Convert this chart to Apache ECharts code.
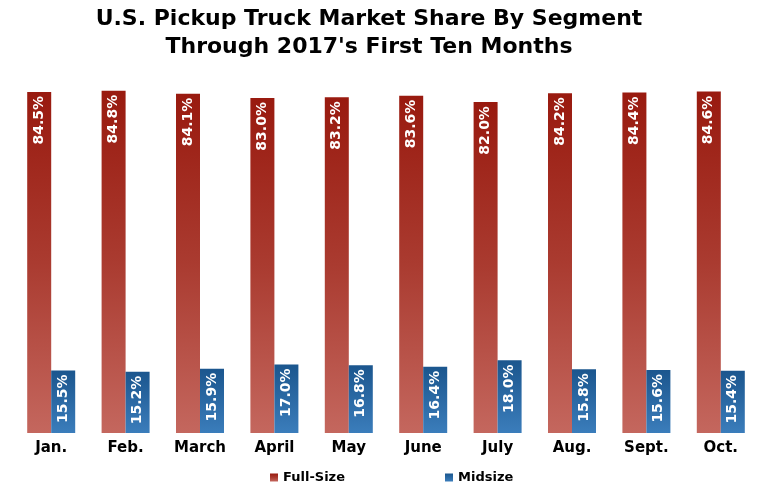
<!DOCTYPE html>
<html>
<head>
<meta charset="utf-8">
<script src="https://cdn.jsdelivr.net/npm/echarts@6/dist/echarts.min.js"></script>
<style>
  html, body { margin: 0; padding: 0; background: #fff; }
  #chart { width: 768px; height: 489px; }
</style>
</head>
<body>
<div id="chart"></div>
<script>
const months = ['Jan.', 'Feb.', 'March', 'April', 'May', 'June', 'July', 'Aug.', 'Sept.', 'Oct.'];
const fullSize = [84.5, 84.8, 84.1, 83.0, 83.2, 83.6, 82.0, 84.2, 84.4, 84.6];
const midsize = [15.5, 15.2, 15.9, 17.0, 16.8, 16.4, 18.0, 15.8, 15.6, 15.4];

const font = 'DejaVu Sans';

const chart = echarts.init(document.getElementById('chart'), null, { renderer: 'canvas' });

// rotated white label at the top of each bar
const barLabel = {
  show: true,
  position: 'insideTop',
  rotate: 90,
  align: 'right',
  verticalAlign: 'middle',
  distance: 4,
  color: '#fff',
  fontFamily: font,
  fontWeight: 'bold',
  fontSize: 14,
  formatter: p => p.value.toFixed(1) + '%'
};

chart.setOption({
  animation: false,
  title: {
    text: "U.S. Pickup Truck Market Share By Segment\nThrough 2017's First Ten Months",
    left: 364,
    textAlign: 'center',
    top: 0,
    textStyle: {
      fontFamily: font,
      fontWeight: 'bold',
      fontSize: 22,
      lineHeight: 28,
      color: '#000'
    }
  },
  legend: {
    bottom: 0,
    left: 265,
    itemGap: 100,
    itemWidth: 8,
    itemHeight: 8,
    icon: 'rect',
    textStyle: { fontFamily: font, fontWeight: 'bold', fontSize: 13, color: '#000' },
    data: ['Full-Size', 'Midsize']
  },
  grid: { left: 14, right: 10, top: 90, bottom: 56 },
  xAxis: {
    type: 'category',
    data: months,
    axisLine: { show: false },
    axisTick: { show: false },
    axisLabel: {
      margin: 8,
      fontFamily: font,
      fontWeight: 'bold',
      fontSize: 15,
      color: '#000'
    }
  },
  yAxis: {
    type: 'value',
    min: 0,
    max: 85,
    show: false,
    splitLine: { show: false }
  },
  series: [
    {
      name: 'Full-Size',
      type: 'bar',
      data: fullSize,
      barWidth: 24,
      barGap: '0%',
      itemStyle: {
        color: new echarts.graphic.LinearGradient(0, 0, 0, 1, [
          { offset: 0, color: '#991a0f' },
          { offset: 0.5, color: '#aa3b30' },
          { offset: 1, color: '#c4675e' }
        ])
      },
      label: barLabel
    },
    {
      name: 'Midsize',
      type: 'bar',
      data: midsize,
      barWidth: 24,
      itemStyle: {
        color: new echarts.graphic.LinearGradient(0, 0, 0, 1, [
          { offset: 0, color: '#1b568e' },
          { offset: 1, color: '#3b7dbb' }
        ])
      },
      label: barLabel
    }
  ]
});
</script>
</body>
</html>
